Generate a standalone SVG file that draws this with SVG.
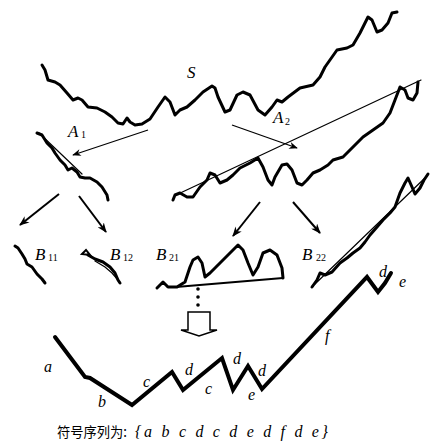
<svg xmlns="http://www.w3.org/2000/svg" width="432" height="447" viewBox="0 0 432 447">
<defs>
<style>
.thk{fill:none;stroke:#000;stroke-width:3;stroke-linejoin:round;stroke-linecap:round}
.thn{fill:none;stroke:#000;stroke-width:1.2;stroke-linecap:round}
.chain{fill:none;stroke:#000;stroke-width:4;stroke-linejoin:miter;stroke-linecap:round}
.lbl{font-family:"Liberation Serif",serif;font-style:italic;font-size:17px;fill:#000}
.sub{font-family:"Liberation Serif",serif;font-size:10px;fill:#000}
.sym{font-family:"Liberation Serif",serif;font-style:italic;font-size:16px;fill:#000}
.arA{fill:none;stroke:#000;stroke-width:1.3}
.arB{fill:none;stroke:#000;stroke-width:2}
</style>
<marker id="ah" viewBox="0 0 10 8" refX="9" refY="4" markerWidth="9" markerHeight="7" markerUnits="userSpaceOnUse" orient="auto">
<path d="M0,0 L10,4 L0,8 L3,4 Z" fill="#000"/>
</marker>
<marker id="ahB" viewBox="0 0 10 8" refX="9" refY="4" markerWidth="10" markerHeight="8" markerUnits="userSpaceOnUse" orient="auto">
<path d="M0,0 L10,4 L0,8 L3,4 Z" fill="#000"/>
</marker>
</defs>

<g id="S">
<polyline class="thk" points="42,65 45,70 48,80 55,82 60,85 67,93 73,100 78,98 82,100 88,107 97,108 105,112 112,117 118,123 123,124 127,118 130,122 135,125 142,124 150,119 158,107 165,97 170,102 175,115 180,110 187,107 195,100 203,92 212,86 215,88 218,97 225,112 230,110 237,95 243,92 250,95 258,110 265,115 272,107 277,100 282,102 288,97 300,88 313,85 320,77 325,67 337,50 347,48 353,45 360,33 368,17 372,20 377,32 382,30 388,23 392,13 397,12"/>
<text class="lbl" x="187" y="78">S</text>
</g>

<g id="A1">
<polyline class="thk" points="37,133 42,135 47,143 52,148 55,153 60,160 65,165 68,170 72,168 77,172 80,177 85,178 90,178 97,182 102,187 107,195 108,200"/>
<line class="thn" x1="39" y1="133" x2="82" y2="174"/>
<text class="lbl" x="68" y="137">A</text><text class="sub" x="81" y="138">1</text>
</g>

<g id="A2">
<polyline class="thk" points="173,200 175,195 180,193 187,197 193,197 200,187 207,180 210,173 215,175 220,183 227,180 233,175 240,168 250,163 258,158 263,167 268,180 272,185 275,177 282,165 287,164 292,170 297,183 302,185 307,180 313,173 320,170 328,165 333,160 343,157 353,147 363,137 373,130 383,123 390,113 395,100 400,87 405,90 408,98 413,100 417,93 418,82"/>
<line class="thn" x1="176" y1="195" x2="421" y2="80"/>
<text class="lbl" x="273" y="123">A</text><text class="sub" x="285" y="125">2</text>
</g>

<g id="B11">
<polyline class="thk" points="15,246 18,248 22,254 25,259 27,264 32,267 37,274 42,279 45,283"/>
<text class="lbl" x="35" y="260">B</text><text class="sub" x="48" y="261">11</text>
</g>

<g id="B12">
<path class="thn" d="M82,254 L86,250 L90,255 Z" style="stroke-width:2"/>
<polyline class="thk" points="88,255 95,259 103,262 110,267 115,273 118,280 120,283"/>
<polyline class="thn" points="95,261 105,267 112,273 118,280"/>
<text class="lbl" x="110" y="260">B</text><text class="sub" x="123" y="261">12</text>
</g>

<g id="B21">
<polyline class="thk" points="157,288 163,282 168,287 177,287 185,282 190,267 193,260 198,257 202,263 205,277 210,273 220,263 230,253 238,245 243,250 248,263 253,275 258,267 263,253 270,250 277,255 282,268 283,278"/>
<line class="thn" x1="283" y1="278" x2="176" y2="287" style="stroke-width:1.8"/>
<text class="lbl" x="156" y="260">B</text><text class="sub" x="169" y="261">21</text>
</g>

<g id="B22">
<polyline class="thk" points="312,287 317,280 320,273 325,275 332,272 340,263 347,258 353,253 360,248 365,242 370,235 377,227 383,220 390,213 395,207 400,193 405,183 408,178 412,187 415,194 420,188 424,180 428,174"/>
<line class="thn" x1="315" y1="284" x2="427" y2="176"/>
<text class="lbl" x="302" y="260">B</text><text class="sub" x="316" y="261">22</text>
</g>

<g id="chain">
<polyline class="chain" points="55,337 85,377 90,378 132,405 172,372 183,390 222,358 233,390 248,366 262,389 367,277 378,292 385,283 391,273"/>
<text class="sym" x="44" y="372">a</text>
<text class="sym" x="98" y="407">b</text>
<text class="sym" x="143" y="387">c</text>
<text class="sym" x="185" y="375">d</text>
<text class="sym" x="205" y="394">c</text>
<text class="sym" x="233" y="364">d</text>
<text class="sym" x="248" y="400">e</text>
<text class="sym" x="258" y="376">d</text>
<text class="sym" x="325" y="341">f</text>
<text class="sym" x="379" y="277">d</text>
<text class="sym" x="399" y="287">e</text>
</g>

<g id="connectors">
<line class="arA" x1="148" y1="130" x2="73" y2="155" marker-end="url(#ah)"/>
<line class="arA" x1="232" y1="125" x2="297" y2="148" marker-end="url(#ah)"/>
<line class="arB" x1="59" y1="194" x2="20" y2="225" marker-end="url(#ahB)"/>
<line class="arB" x1="79" y1="196" x2="106" y2="232" marker-end="url(#ahB)"/>
<line class="arB" x1="260" y1="202" x2="233" y2="236" marker-end="url(#ahB)"/>
<line class="arB" x1="293" y1="202" x2="320" y2="233" marker-end="url(#ahB)"/>
<circle cx="198" cy="289" r="1.8"/>
<circle cx="198" cy="297" r="1.8"/>
<circle cx="198" cy="305" r="1.8"/>
<path d="M188,312 H210 V330 H217 L199,336 L181,330 H188 Z" fill="#fff" stroke="#000" stroke-width="1.5" stroke-linejoin="miter"/>
</g>

<g id="caption">
<text x="57" y="437" font-family="Noto Sans CJK SC, sans-serif" font-size="14" textLength="70" lengthAdjust="spacingAndGlyphs">符号序列为:</text>
<text x="135" y="437" class="sym" font-size="15" textLength="193" lengthAdjust="spacing">{a b c d c d e d f d e}</text>
</g>
</svg>
